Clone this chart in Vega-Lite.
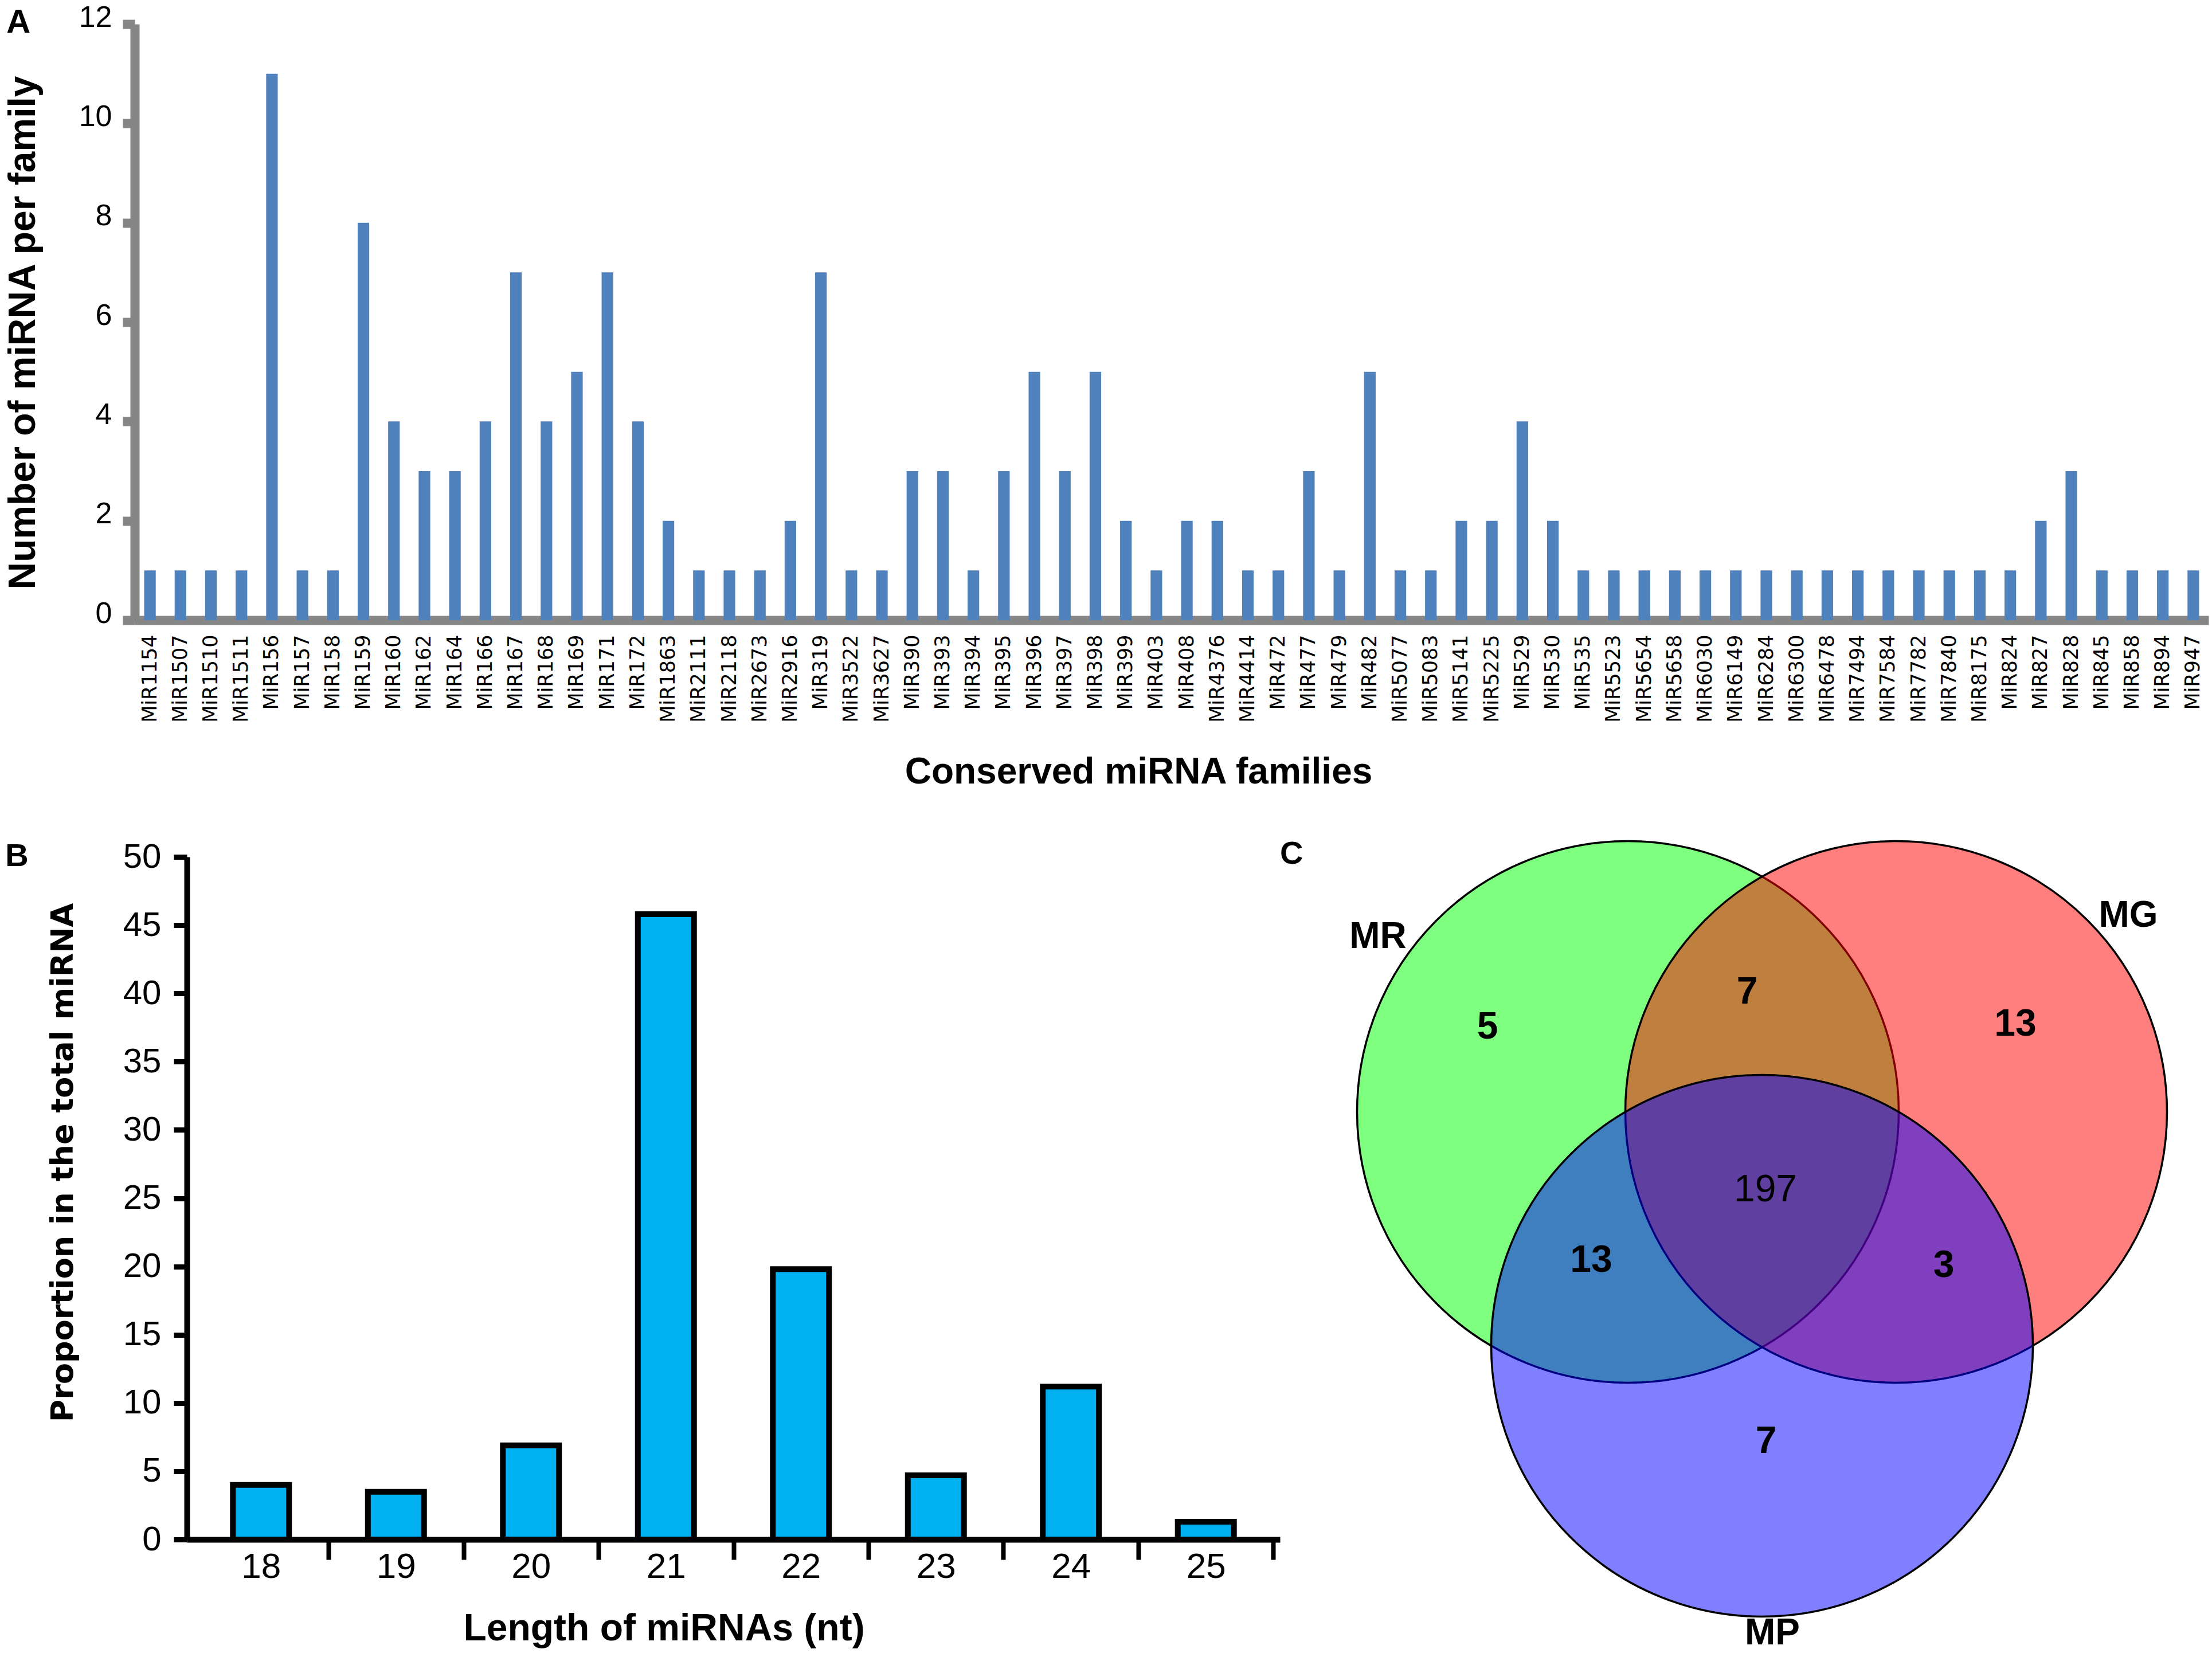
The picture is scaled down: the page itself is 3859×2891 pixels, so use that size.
{
  "$schema": "https://vega.github.io/schema/vega-lite/v6.json",
  "background": "white",
  "padding": {"left": 7, "top": 4, "right": 0, "bottom": 0},
  "config": {"view": {"stroke": null}, "axis": {"grid": false}},
  "spacing": 80,
  "vconcat": [
    {
      "title": {"text": "A", "anchor": "start", "frame": "bounds", "offset": -62, "dx": 4, "dy": 3, "fontSize": 58, "font": "Liberation Sans", "fontWeight": "bold", "color": "black"},
      "width": 3618,
      "height": 1040,
      "data": {"values": [
        {"family": "MiR1154", "count": 1}, {"family": "MiR1507", "count": 1}, {"family": "MiR1510", "count": 1}, {"family": "MiR1511", "count": 1},
        {"family": "MiR156", "count": 11}, {"family": "MiR157", "count": 1}, {"family": "MiR158", "count": 1}, {"family": "MiR159", "count": 8},
        {"family": "MiR160", "count": 4}, {"family": "MiR162", "count": 3}, {"family": "MiR164", "count": 3}, {"family": "MiR166", "count": 4},
        {"family": "MiR167", "count": 7}, {"family": "MiR168", "count": 4}, {"family": "MiR169", "count": 5}, {"family": "MiR171", "count": 7},
        {"family": "MiR172", "count": 4}, {"family": "MiR1863", "count": 2}, {"family": "MiR2111", "count": 1}, {"family": "MiR2118", "count": 1},
        {"family": "MiR2673", "count": 1}, {"family": "MiR2916", "count": 2}, {"family": "MiR319", "count": 7}, {"family": "MiR3522", "count": 1},
        {"family": "MiR3627", "count": 1}, {"family": "MiR390", "count": 3}, {"family": "MiR393", "count": 3}, {"family": "MiR394", "count": 1},
        {"family": "MiR395", "count": 3}, {"family": "MiR396", "count": 5}, {"family": "MiR397", "count": 3}, {"family": "MiR398", "count": 5},
        {"family": "MiR399", "count": 2}, {"family": "MiR403", "count": 1}, {"family": "MiR408", "count": 2}, {"family": "MiR4376", "count": 2},
        {"family": "MiR4414", "count": 1}, {"family": "MiR472", "count": 1}, {"family": "MiR477", "count": 3}, {"family": "MiR479", "count": 1},
        {"family": "MiR482", "count": 5}, {"family": "MiR5077", "count": 1}, {"family": "MiR5083", "count": 1}, {"family": "MiR5141", "count": 2},
        {"family": "MiR5225", "count": 2}, {"family": "MiR529", "count": 4}, {"family": "MiR530", "count": 2}, {"family": "MiR535", "count": 1},
        {"family": "MiR5523", "count": 1}, {"family": "MiR5654", "count": 1}, {"family": "MiR5658", "count": 1}, {"family": "MiR6030", "count": 1},
        {"family": "MiR6149", "count": 1}, {"family": "MiR6284", "count": 1}, {"family": "MiR6300", "count": 1}, {"family": "MiR6478", "count": 1},
        {"family": "MiR7494", "count": 1}, {"family": "MiR7584", "count": 1}, {"family": "MiR7782", "count": 1}, {"family": "MiR7840", "count": 1},
        {"family": "MiR8175", "count": 1}, {"family": "MiR824", "count": 1}, {"family": "MiR827", "count": 2}, {"family": "MiR828", "count": 3},
        {"family": "MiR845", "count": 1}, {"family": "MiR858", "count": 1}, {"family": "MiR894", "count": 1}, {"family": "MiR947", "count": 1}
      ]},
      "mark": {"type": "bar", "color": "#4F81BD"},
      "encoding": {
        "x": {
          "field": "family", "type": "nominal", "sort": null,
          "scale": {"paddingInner": 0.62, "paddingOuter": 0.31},
          "axis": {
            "title": "Conserved miRNA families", "titleFont": "Liberation Sans", "titleFontSize": 64, "titleFontWeight": "bold", "titleColor": "black", "titlePadding": 55, "titleX": 1751,
            "labelAngle": -90, "labelFont": "DejaVu Sans", "labelFontSize": 35, "labelColor": "black", "labelPadding": 25, "labelOverlap": false,
            "ticks": false, "tickSize": 0, "domainColor": "#868686", "domainWidth": 16
          }
        },
        "y": {
          "field": "count", "type": "quantitative",
          "scale": {"domain": [0, 12], "nice": false},
          "axis": {
            "title": "Number of miRNA per family", "titleFont": "Liberation Sans", "titleFontSize": 66, "titleFontWeight": "bold", "titleColor": "black", "titlePadding": 63, "titleY": 538,
            "values": [0, 2, 4, 6, 8, 10, 12], "labelFont": "Liberation Sans", "labelFontSize": 52, "labelColor": "black", "labelPadding": 19, "labelOffset": -12,
            "tickSize": 21, "tickWidth": 16, "tickColor": "#868686", "domainColor": "#868686", "domainWidth": 16
          }
        }
      }
    },
    {
      "spacing": -227,
      "hconcat": [
        {
          "width": 1,
          "height": 1,
          "data": {"values": []},
          "mark": {"type": "point", "opacity": 0},
          "encoding": {}
        },
        {
          "spacing": 0,
          "hconcat": [
            {
              "title": {"text": "B", "anchor": "start", "frame": "bounds", "offset": -58, "dx": -74, "fontSize": 56, "font": "Liberation Sans", "fontWeight": "bold", "color": "black"},
              "width": 1907,
              "height": 1191,
              "data": {"values": [
                {"length": "18", "proportion": 4.0}, {"length": "19", "proportion": 3.5}, {"length": "20", "proportion": 6.9}, {"length": "21", "proportion": 45.8},
                {"length": "22", "proportion": 19.8}, {"length": "23", "proportion": 4.7}, {"length": "24", "proportion": 11.2}, {"length": "25", "proportion": 1.3}
              ]},
              "mark": {"type": "bar", "fill": "#00B0F0", "stroke": "black", "strokeWidth": 10, "width": {"band": 0.416}},
              "encoding": {
                "x": {
                  "field": "length", "type": "ordinal", "sort": null,
                  "scale": {"paddingInner": 0, "paddingOuter": 0.049},
                  "axis": {
                    "title": "Length of miRNAs (nt)", "titleFont": "Liberation Sans", "titleFontSize": 66, "titleFontWeight": "bold", "titleColor": "black", "titlePadding": 45, "titleX": 832,
                    "labelAngle": 0, "labelFont": "Liberation Sans", "labelFontSize": 62, "labelColor": "black", "labelPadding": -18, "labelOffset": -117.75,
                    "tickOffset": 117.75, "tickSize": 35, "tickWidth": 8, "tickColor": "black", "domainColor": "black", "domainWidth": 10
                  }
                },
                "y": {
                  "field": "proportion", "type": "quantitative",
                  "scale": {"domain": [0, 50], "nice": false},
                  "axis": {
                    "title": "Proportion in the total miRNA", "titleFont": "DejaVu Sans", "titleFontSize": 54, "titleFontWeight": "bold", "titleColor": "black", "titlePadding": 77, "titleY": 533,
                    "values": [0, 5, 10, 15, 20, 25, 30, 35, 40, 45, 50], "labelFont": "Liberation Sans", "labelFontSize": 60, "labelColor": "black", "labelPadding": 22,
                    "tickSize": 23, "tickWidth": 9, "tickColor": "black", "domainColor": "black", "domainWidth": 10
                  }
                }
              }
            },
            {
              "title": {"text": "C", "anchor": "start", "frame": "group", "offset": -58, "fontSize": 56, "font": "Liberation Sans", "fontWeight": "bold", "color": "black"},
              "width": 1624,
              "height": 1394,
              "encoding": {
                "x": {"field": "x", "type": "quantitative", "scale": {"domain": [2235, 3859], "nice": false, "zero": false}, "axis": null},
                "y": {"field": "y", "type": "quantitative", "scale": {"domain": [1497, 2891], "nice": false, "zero": false, "reverse": true}, "axis": null}
              },
              "layer": [
                {
                  "data": {"values": [
                    {"set": "MR", "x": 2842, "y": 1942},
                    {"set": "MG", "x": 3310, "y": 1942},
                    {"set": "MP", "x": 3076, "y": 2350}
                  ]},
                  "mark": {"type": "point", "shape": "circle", "filled": true, "size": 893025, "opacity": 1, "fillOpacity": 0.5, "stroke": "black", "strokeWidth": 3.5, "strokeOpacity": 1},
                  "encoding": {
                    "fill": {"field": "set", "type": "nominal", "scale": {"domain": ["MR", "MG", "MP"], "range": ["#00FF00", "#FF0000", "#0000FF"]}, "legend": null}
                  }
                },
                {
                  "data": {"values": [
                    {"name": "MR", "x": 2406, "y": 1637},
                    {"name": "MG", "x": 3715, "y": 1600},
                    {"name": "MP", "x": 3094, "y": 2852}
                  ]},
                  "mark": {"type": "text", "font": "Liberation Sans", "fontSize": 64, "fontWeight": "bold", "color": "black", "align": "center", "baseline": "middle"},
                  "encoding": {"text": {"field": "name", "type": "nominal"}}
                },
                {
                  "data": {"values": [
                    {"region": "MR only", "count": "5", "x": 2597, "y": 1794},
                    {"region": "MR and MG", "count": "7", "x": 3050, "y": 1733},
                    {"region": "MG only", "count": "13", "x": 3518, "y": 1789},
                    {"region": "MR and MP", "count": "13", "x": 2778, "y": 2201},
                    {"region": "MG and MP", "count": "3", "x": 3393, "y": 2210},
                    {"region": "MP only", "count": "7", "x": 3083, "y": 2517}
                  ]},
                  "mark": {"type": "text", "font": "Liberation Sans", "fontSize": 66, "fontWeight": "bold", "color": "black", "align": "center", "baseline": "middle"},
                  "encoding": {"text": {"field": "count", "type": "nominal"}}
                },
                {
                  "data": {"values": [
                    {"region": "MR, MG and MP", "count": "197", "x": 3082, "y": 2078}
                  ]},
                  "mark": {"type": "text", "font": "Liberation Sans", "fontSize": 66, "fontWeight": "normal", "color": "black", "align": "center", "baseline": "middle"},
                  "encoding": {"text": {"field": "count", "type": "nominal"}}
                }
              ]
            }
          ]
        }
      ]
    }
  ]
}
